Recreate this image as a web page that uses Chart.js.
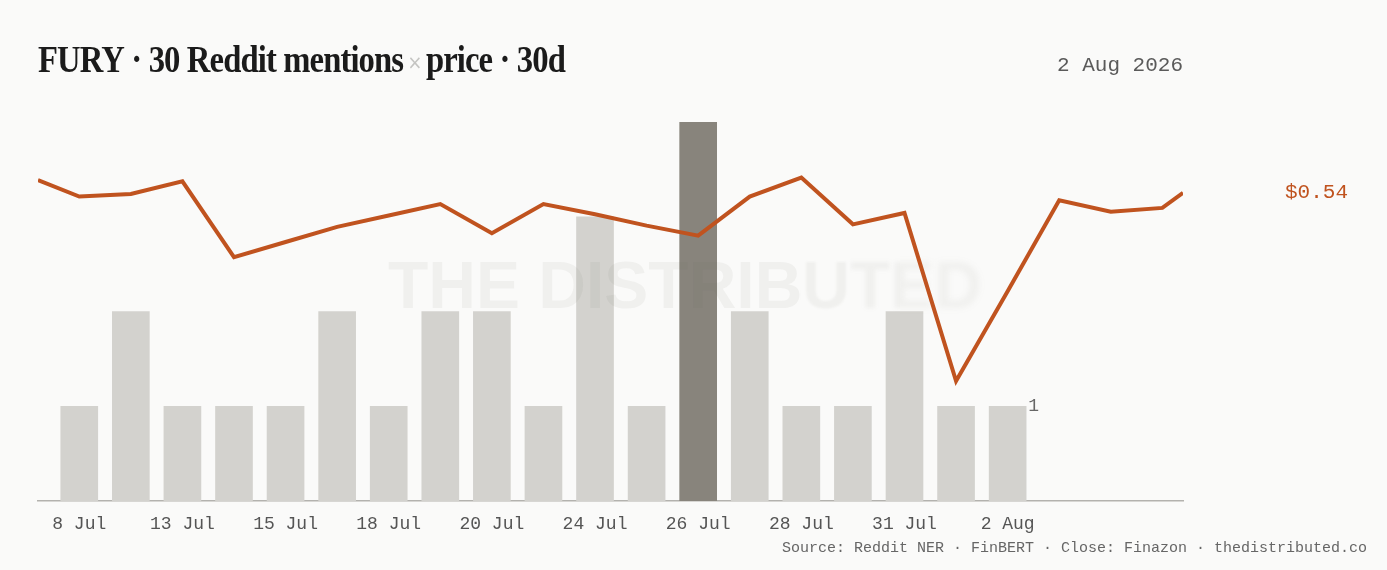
<!DOCTYPE html>
<html lang="en">
<head>
<meta charset="UTF-8">
<title>FURY · Reddit mentions × price</title>
<script src="https://cdn.jsdelivr.net/npm/chart.js"></script>
<style>
  html, body { margin: 0; padding: 0; background: #fafaf9; }
  #wrap { position: relative; width: 1387px; height: 570px; }
</style>
</head>
<body>
<div id="wrap"><canvas id="chart" width="1387" height="570"></canvas></div>
<script>
// mentions per day (bars), one slot per day with mentions
const mentionCounts = [1, 2, 1, 1, 1, 2, 1, 2, 2, 1, 3, 1, 4, 2, 1, 1, 2, 1, 1];
const tickSlots = [0, 2, 4, 6, 8, 10, 12, 14, 16, 18];
const tickLabels = ['8 Jul', '13 Jul', '15 Jul', '18 Jul', '20 Jul', '24 Jul', '26 Jul', '28 Jul', '31 Jul', '2 Aug'];

// daily close, on the same slot axis
const priceSlots = [-0.8, 0, 1, 2, 3, 4, 5, 6, 7, 8, 9, 10, 11, 12, 13, 14, 15, 16, 17, 18, 19, 20, 21, 21.4];
const closePrices = [0.554, 0.541, 0.543, 0.553, 0.493, 0.505, 0.517, 0.526, 0.535, 0.512, 0.535, 0.527,
                     0.518, 0.510, 0.541, 0.556, 0.519, 0.528, 0.395, 0.466, 0.538, 0.529, 0.532, 0.544];

const BG = '#fafaf9';
const ORANGE = '#c0531f';
const BAR = '#d3d2ce';
const BAR_HI = '#88847c';
const MONO = '"Liberation Mono", "DejaVu Sans Mono", monospace';
const SERIF = '"Liberation Serif", "DejaVu Serif", serif';

const peak = Math.max(...mentionCounts);
const barColors = mentionCounts.map(v => v === peak ? BAR_HI : BAR);

const bgPlugin = {
  id: 'bg',
  beforeDraw(chart) {
    const ctx = chart.ctx;
    ctx.save();
    ctx.fillStyle = BG;
    ctx.fillRect(0, 0, chart.width, chart.height);
    ctx.restore();
  }
};

// faint wordmark over the bars, fading out to the right
const watermarkPlugin = {
  id: 'watermark',
  afterDatasetDraw(chart, args) {
    if (args.index !== 0) return;
    const ctx = chart.ctx;
    const slices = [[0, 800, 0], [800, 850, 1], [850, 900, 2], [900, 1387, 3]];
    for (const [x0, x1, blur] of slices) {
      ctx.save();
      ctx.beginPath();
      ctx.rect(x0, 200, x1 - x0, 150);
      ctx.clip();
      if (blur) ctx.filter = 'blur(' + blur + 'px)';
      ctx.font = 'bold 66px "Liberation Sans", Arial, sans-serif';
      ctx.fillStyle = 'rgba(100,100,95,0.065)';
      ctx.textBaseline = 'alphabetic';
      ctx.fillText('THE DISTRIBUTED', 388, 308);
      ctx.restore();
    }
  }
};

const textPlugin = {
  id: 'texts',
  afterDraw(chart) {
    const ctx = chart.ctx;
    const area = chart.chartArea;
    const x = chart.scales.x, y = chart.scales.y, yp = chart.scales.yPrice;
    ctx.save();

    // title
    const part1 = 'FURY · 30 Reddit mentions';
    const part2 = 'price · 30d';
    ctx.letterSpacing = '-1px';
    ctx.font = 'bold 37px ' + SERIF;
    const w1 = ctx.measureText(part1).width;
    const w2 = ctx.measureText(part2).width;
    ctx.font = '20px "DejaVu Sans", sans-serif';
    const wx = ctx.measureText('×').width;
    const gap = 5;
    const s = 527 / (w1 + w2 + wx + gap * 2);
    ctx.save();
    ctx.translate(38, 72);
    ctx.scale(s, 1);
    ctx.textBaseline = 'alphabetic';
    ctx.fillStyle = '#1b1b1b';
    ctx.font = 'bold 37px ' + SERIF;
    ctx.fillText(part1, 0, 0);
    ctx.fillText(part2, w1 + gap * 2 + wx, 0);
    ctx.font = '20px "DejaVu Sans", sans-serif';
    ctx.fillStyle = '#c4c4c2';
    ctx.fillText('×', w1 + gap, -3);
    ctx.restore();
    ctx.letterSpacing = '0px';

    // date
    ctx.font = '21px ' + MONO;
    ctx.fillStyle = '#5a5a5a';
    ctx.textAlign = 'right';
    ctx.textBaseline = 'alphabetic';
    ctx.fillText('2 Aug 2026', area.right, 71);

    // source
    ctx.font = '15px ' + MONO;
    ctx.fillStyle = '#666';
    ctx.fillText('Source: Reddit NER · FinBERT · Close: Finazon · thedistributed.co', 1367, 552);

    // last price tag
    const last = closePrices[closePrices.length - 1];
    ctx.textAlign = 'left';
    ctx.textBaseline = 'middle';
    ctx.font = '21px ' + MONO;
    ctx.fillStyle = ORANGE;
    ctx.fillText('$' + last.toFixed(2), area.right + 102, yp.getPixelForValue(last));

    // value tag next to the last bar
    const lastIdx = mentionCounts.length - 1;
    ctx.font = '18px ' + MONO;
    ctx.fillStyle = '#666';
    ctx.fillText(String(mentionCounts[lastIdx]), x.getPixelForValue(lastIdx) + 18.5 + 2, y.getPixelForValue(mentionCounts[lastIdx]));

    ctx.restore();
  }
};

new Chart(document.getElementById('chart'), {
  type: 'bar',
  data: {
    datasets: [
      {
        type: 'bar',
        data: mentionCounts.map((v, i) => ({ x: i, y: v })),
        backgroundColor: barColors,
        barThickness: 37,
        yAxisID: 'y',
        order: 1
      },
      {
        type: 'line',
        data: priceSlots.map((s, i) => ({ x: s, y: closePrices[i] })),
        borderColor: ORANGE,
        borderWidth: 4,
        pointRadius: 0,
        tension: 0,
        fill: false,
        yAxisID: 'yPrice',
        order: 0
      }
    ]
  },
  options: {
    responsive: false,
    animation: false,
    devicePixelRatio: 1,
    layout: { padding: { left: 38, right: 204, top: 122, bottom: 0 } },
    plugins: { legend: { display: false }, tooltip: { enabled: false } },
    scales: {
      x: {
        type: 'linear',
        min: -0.8,
        max: 21.4,
        offset: false,
        grid: { display: false, drawTicks: false },
        border: { display: true, color: '#b3b2ae', width: 1.5 },
        afterBuildTicks(scale) { scale.ticks = tickSlots.map(v => ({ value: v })); },
        afterFit(scale) { scale.height = 69; },
        ticks: {
          autoSkip: false,
          maxRotation: 0,
          padding: 12,
          color: '#555',
          font: { family: MONO, size: 18 },
          callback: v => tickLabels[tickSlots.indexOf(v)] || ''
        }
      },
      y: { display: false, min: 0, max: 4 },
      yPrice: { display: false, position: 'right', min: 0.3, max: 0.6 }
    }
  },
  plugins: [bgPlugin, watermarkPlugin, textPlugin]
});
</script>
</body>
</html>
